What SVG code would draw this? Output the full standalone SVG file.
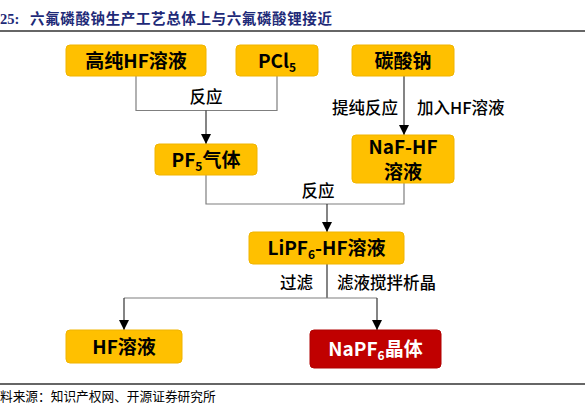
<svg xmlns="http://www.w3.org/2000/svg" width="585" height="409" viewBox="0 0 585 409">
<style>
.box{fill:#FFC000;stroke:#F0B400;stroke-width:1}
.red{fill:#C00000;stroke:#B00000;stroke-width:1}
.bt{font-family:"Noto Sans CJK SC","Noto Sans",sans-serif;font-size:19px;font-weight:bold;fill:#000;text-anchor:middle}
.wt{fill:#fff}
.lb{font-family:"Noto Sans CJK SC","Noto Sans",sans-serif;font-size:16.5px;font-weight:500;fill:#000}
.br{fill:none;stroke:#7f7f7f;stroke-width:1.2}
.ar{fill:none;stroke:#333;stroke-width:1.2;marker-end:url(#ah)}
.sub{font-size:12px}
</style>
<defs>
<marker id="ah" markerUnits="userSpaceOnUse" markerWidth="10" markerHeight="10" viewBox="0 0 10 10" refX="10" refY="5" orient="auto">
<path d="M0,0 L10,5 L0,10 Z" fill="#000"/>
</marker>
</defs>
<rect width="585" height="409" fill="#fff"/>
<text y="24" font-family="'Liberation Serif','Noto Sans CJK SC',serif" font-size="14.5" font-weight="bold" fill="#1e2a78"><tspan x="0">25:</tspan><tspan x="30" textLength="302" lengthAdjust="spacing">六氟磷酸钠生产工艺总体上与六氟磷酸锂接近</tspan></text>
<line x1="0" y1="31" x2="585" y2="31" stroke="#333" stroke-width="1.5"/>
<line x1="0" y1="384" x2="585" y2="384" stroke="#333" stroke-width="1.5"/>
<text x="0" y="401" font-family="'Liberation Serif','Noto Sans CJK SC',serif" font-size="12.7" fill="#000">料来源：知识产权网、开源证券研究所</text>

<g id="connectors">
<polyline class="br" points="136,76 136,110.5 277,110.5 277,76"/>
<line class="ar" x1="206" y1="110.5" x2="206" y2="144"/>
<line class="ar" x1="404" y1="76" x2="404" y2="135"/>
<polyline class="br" points="206,175 206,204 404,204 404,183"/>
<line class="ar" x1="327" y1="204" x2="327" y2="232"/>
<line x1="327" y1="264" x2="327" y2="298" stroke="#333" stroke-width="1.2"/>
<polyline class="br" points="124,298 377,298"/>
<line class="ar" x1="124" y1="298" x2="124" y2="330"/>
<line class="ar" x1="377" y1="298" x2="377" y2="330"/>
<text class="lb" x="206" y="103" text-anchor="middle">反应</text>
<text class="lb" x="398" y="114" text-anchor="end">提纯反应</text>
<text class="lb" x="417" y="114">加入HF溶液</text>
<text class="lb" x="318" y="197" text-anchor="middle">反应</text>
<text class="lb" x="313" y="289" text-anchor="end">过滤</text>
<text class="lb" x="337" y="289">滤液搅拌析晶</text>
</g>

<g id="hf-pure">
<rect class="box" x="66" y="45" width="140" height="31" rx="4"/>
<text class="bt" x="136" y="67.5">高纯HF溶液</text>
</g>
<g id="pcl5">
<rect class="box" x="236" y="45" width="82" height="31" rx="4"/>
<text class="bt" x="277" y="67.5">PCl<tspan class="sub" dy="4">5</tspan></text>
</g>
<g id="na2co3">
<rect class="box" x="352" y="45" width="102" height="31" rx="4"/>
<text class="bt" x="403" y="67.5">碳酸钠</text>
</g>
<g id="pf5">
<rect class="box" x="155" y="144" width="102" height="31" rx="4"/>
<text class="bt" x="206" y="166.5">PF<tspan class="sub" dy="4">5</tspan><tspan dy="-4">气体</tspan></text>
</g>
<g id="naf-hf">
<rect class="box" x="352" y="135" width="102" height="48" rx="4"/>
<text class="bt" font-size="17.5"><tspan x="403" y="153.5">NaF-HF</tspan><tspan x="403" y="179">溶液</tspan></text>
</g>
<g id="lipf6">
<rect class="box" x="249" y="232" width="155" height="32" rx="4"/>
<text class="bt" x="326.5" y="255">LiPF<tspan class="sub" dy="4">6</tspan><tspan dy="-4">-HF溶液</tspan></text>
</g>
<g id="hf">
<rect class="box" x="66" y="330" width="116" height="33" rx="4"/>
<text class="bt" x="124" y="353.5">HF溶液</text>
</g>
<g id="napf6">
<rect class="red" x="310" y="330" width="131" height="38" rx="4"/>
<text class="bt wt" x="375.5" y="356">NaPF<tspan class="sub" dy="4">6</tspan><tspan dy="-4">晶体</tspan></text>
</g>
</svg>
